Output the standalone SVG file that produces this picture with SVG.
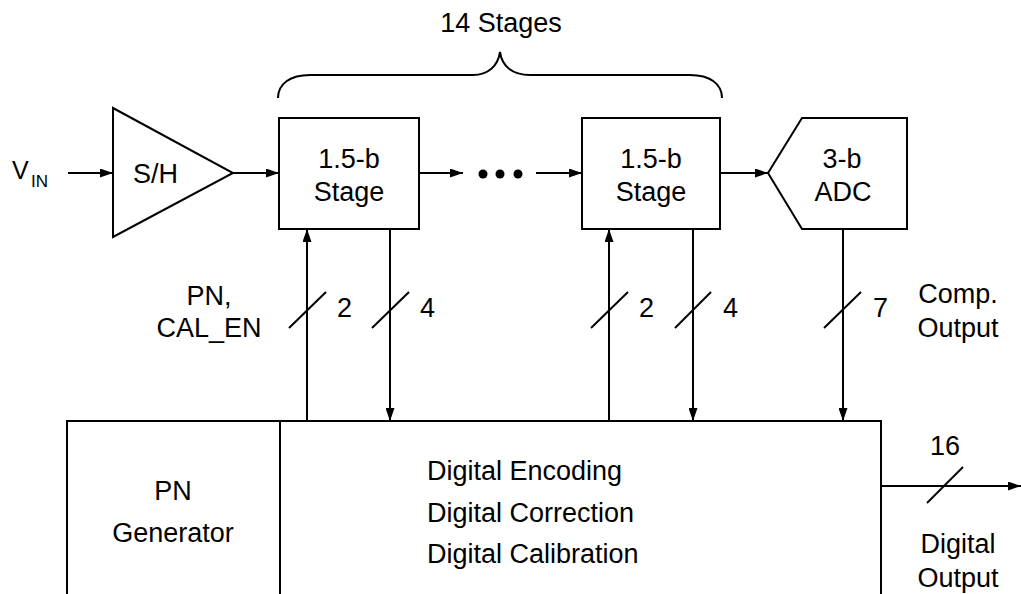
<svg xmlns="http://www.w3.org/2000/svg" width="1021" height="594" viewBox="0 0 1021 594">
<style>
text{font-family:"Liberation Sans",Arial,sans-serif;font-size:27px;fill:#000}
text.v{font-size:25px}
text.sub{font-size:17px}
.b{fill:#fff;stroke:#000;stroke-width:2}
.w{fill:none;stroke:#000;stroke-width:2}
.m{text-anchor:middle}
</style>
<defs>
<marker id="ah" viewBox="0 0 13 9" refX="13" refY="4.5" markerWidth="13" markerHeight="9" markerUnits="userSpaceOnUse" orient="auto">
<path d="M0,0 L13,4.5 L0,9 Z" fill="#000"/>
</marker>
</defs>
<rect width="1021" height="594" fill="#fff"/>
<g id="brace">
<path class="w" d="M278,98 C278,84 290,75 310,75 L473,75 C488,75 498,66 500,52 C502,66 512,75 530,75 L690,75 C710,75 722,84 722,98"/>
<text class="m" x="501" y="32">14 Stages</text>
</g>
<g id="vin">
<text class="v" x="12" y="179">V</text>
<text class="sub" x="31" y="187">IN</text>
</g>
<g id="sh">
<path class="b" d="M113,108 L233,173 L113,237 Z"/>
<text x="133" y="183">S/H</text>
</g>
<g id="stage1">
<rect class="b" x="279" y="118" width="140" height="111"/>
<text class="m" x="349" y="168">1.5-b</text>
<text class="m" x="349" y="201">Stage</text>
</g>
<g id="dots">
<circle cx="483" cy="174" r="4.5"/>
<circle cx="500" cy="174" r="4.5"/>
<circle cx="518" cy="174" r="4.5"/>
</g>
<g id="stage2">
<rect class="b" x="582" y="118" width="138" height="111"/>
<text class="m" x="651" y="168">1.5-b</text>
<text class="m" x="651" y="201">Stage</text>
</g>
<g id="adc">
<path class="b" d="M768,173 L802,118 L907,118 L907,229 L802,229 Z"/>
<text class="m" x="842" y="168">3-b</text>
<text class="m" x="843" y="201">ADC</text>
</g>
<g id="pngen">
<rect class="b" x="67" y="421" width="213" height="200"/>
<text class="m" x="173" y="500">PN</text>
<text class="m" x="173" y="542">Generator</text>
</g>
<g id="digital">
<rect class="b" x="280" y="421" width="601" height="200"/>
<text x="427" y="480">Digital Encoding</text>
<text x="427" y="522">Digital Correction</text>
<text x="427" y="563">Digital Calibration</text>
</g>
<g id="connectors">
<line class="w" x1="68" y1="173" x2="113" y2="173" marker-end="url(#ah)"/>
<line class="w" x1="233" y1="173" x2="279" y2="173" marker-end="url(#ah)"/>
<line class="w" x1="419" y1="173" x2="463" y2="173" marker-end="url(#ah)"/>
<line class="w" x1="536" y1="173" x2="582" y2="173" marker-end="url(#ah)"/>
<line class="w" x1="720" y1="173" x2="768" y2="173" marker-end="url(#ah)"/>
<line class="w" x1="307" y1="421" x2="307" y2="229" marker-end="url(#ah)"/>
<line class="w" x1="390" y1="229" x2="390" y2="421" marker-end="url(#ah)"/>
<line class="w" x1="609" y1="421" x2="609" y2="229" marker-end="url(#ah)"/>
<line class="w" x1="693" y1="229" x2="693" y2="421" marker-end="url(#ah)"/>
<line class="w" x1="843" y1="229" x2="843" y2="421" marker-end="url(#ah)"/>
<line class="w" x1="881" y1="486" x2="1021" y2="486" marker-end="url(#ah)"/>
<line class="w" x1="289" y1="328" x2="326" y2="292"/>
<line class="w" x1="372" y1="328" x2="409" y2="292"/>
<line class="w" x1="591" y1="328" x2="628" y2="292"/>
<line class="w" x1="675" y1="328" x2="711" y2="292"/>
<line class="w" x1="824" y1="328" x2="861" y2="292"/>
<line class="w" x1="927" y1="503" x2="963" y2="467"/>
</g>
<g id="labels">
<text class="m" x="209" y="305">PN,</text>
<text class="m" x="209" y="337">CAL_EN</text>
<text x="337" y="317">2</text>
<text x="420" y="317">4</text>
<text x="639" y="317">2</text>
<text x="723" y="317">4</text>
<text x="873" y="317">7</text>
<text class="m" x="958" y="303">Comp.</text>
<text class="m" x="958" y="337">Output</text>
<text class="m" x="945" y="455">16</text>
<text class="m" x="958" y="553">Digital</text>
<text class="m" x="958" y="587">Output</text>
</g>
</svg>
